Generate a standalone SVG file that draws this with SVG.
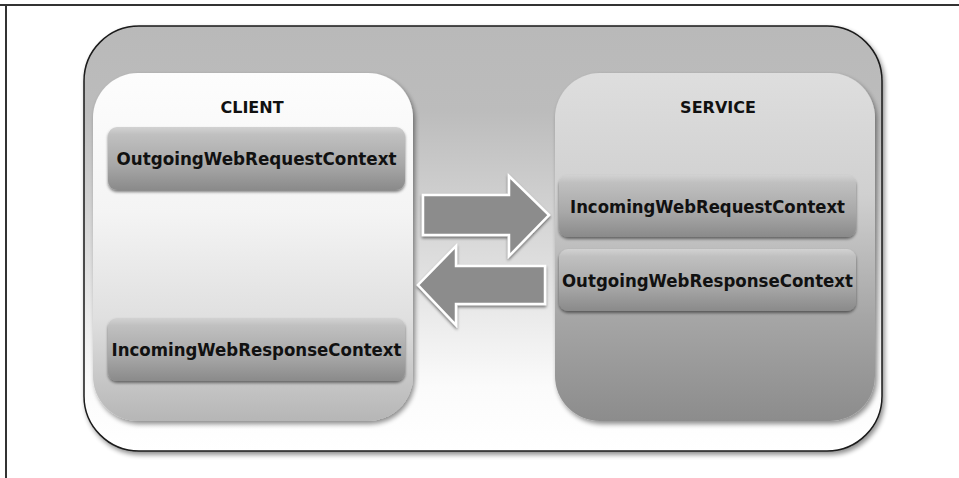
<svg xmlns="http://www.w3.org/2000/svg" width="959" height="478" viewBox="0 0 959 478">
<defs>
<linearGradient id="gOuter" x1="0" y1="0" x2="0" y2="1">
<stop offset="0" stop-color="#b9b9b9"/>
<stop offset="0.2" stop-color="#bcbcbc"/>
<stop offset="0.6" stop-color="#e2e2e2"/>
<stop offset="0.85" stop-color="#fbfbfb"/>
<stop offset="1" stop-color="#ffffff"/>
</linearGradient>
<linearGradient id="gClient" x1="0" y1="0" x2="0" y2="1">
<stop offset="0" stop-color="#fdfdfd"/>
<stop offset="0.4" stop-color="#f4f4f4"/>
<stop offset="0.7" stop-color="#e0e0e0"/>
<stop offset="1" stop-color="#b6b6b6"/>
</linearGradient>
<linearGradient id="gService" x1="0" y1="0" x2="0" y2="1">
<stop offset="0" stop-color="#dedede"/>
<stop offset="0.35" stop-color="#d0d0d0"/>
<stop offset="0.7" stop-color="#a6a6a6"/>
<stop offset="1" stop-color="#8c8c8c"/>
</linearGradient>
<linearGradient id="gItem" x1="0" y1="0" x2="0" y2="1">
<stop offset="0" stop-color="#d2d2d2"/>
<stop offset="0.12" stop-color="#c0c0c0"/>
<stop offset="0.6" stop-color="#a8a8a8"/>
<stop offset="1" stop-color="#8a8a8a"/>
</linearGradient>
<filter id="shadow" x="-10%" y="-10%" width="125%" height="130%">
<feGaussianBlur in="SourceAlpha" stdDeviation="2.5"/>
<feOffset dx="2" dy="3" result="b"/>
<feComponentTransfer><feFuncA type="linear" slope="0.45"/></feComponentTransfer>
<feMerge><feMergeNode/><feMergeNode in="SourceGraphic"/></feMerge>
</filter>
<filter id="shadowS" x="-10%" y="-20%" width="120%" height="150%">
<feGaussianBlur in="SourceAlpha" stdDeviation="1.5"/>
<feOffset dx="0" dy="2" result="b"/>
<feComponentTransfer><feFuncA type="linear" slope="0.5"/></feComponentTransfer>
<feMerge><feMergeNode/><feMergeNode in="SourceGraphic"/></feMerge>
</filter>
</defs>
<style>
.frame{fill:none;stroke:#333;stroke-width:2}
.outer{fill:url(#gOuter);stroke:#1a1a1a;stroke-width:1.5}
.client{fill:url(#gClient);stroke:none}
.service{fill:url(#gService);stroke:none}
.item{fill:url(#gItem);stroke:none}
.title{font-family:"DejaVu Sans","Liberation Sans",sans-serif;font-weight:bold;font-size:16px;fill:#111;text-anchor:middle}
.lbl{font-family:"DejaVu Sans","Liberation Sans",sans-serif;font-weight:bold;font-size:17px;fill:#111;text-anchor:middle}
.arrow{fill:#8c8c8c;stroke:#ffffff;stroke-width:2.5;stroke-linejoin:miter}
</style>
<rect width="959" height="478" fill="#ffffff"/>
<path class="frame" d="M0 5 H959 M6 5 V478"/>
<g id="container">
<rect class="outer" x="84" y="26" width="798" height="425" rx="55" ry="55" filter="url(#shadow)"/>
</g>
<g id="client">
<rect class="client" x="93" y="73" width="320" height="348" rx="45" ry="45" filter="url(#shadow)"/>
<text class="title" x="252" y="113">CLIENT</text>
</g>
<g id="service">
<rect class="service" x="555" y="73" width="320" height="348" rx="45" ry="45" filter="url(#shadow)"/>
<text class="title" x="718" y="113">SERVICE</text>
</g>
<g id="outgoingWebRequestContext">
<rect class="item" x="108" y="127" width="297" height="63" rx="9" ry="9" filter="url(#shadowS)"/>
<text class="lbl" x="256.5" y="165" textLength="280" lengthAdjust="spacingAndGlyphs">OutgoingWebRequestContext</text>
</g>
<g id="incomingWebResponseContext">
<rect class="item" x="108" y="318" width="297" height="63" rx="9" ry="9" filter="url(#shadowS)"/>
<text class="lbl" x="256.5" y="356" textLength="290" lengthAdjust="spacingAndGlyphs">IncomingWebResponseContext</text>
</g>
<g id="incomingWebRequestContext">
<rect class="item" x="559" y="175" width="297" height="62" rx="9" ry="9" filter="url(#shadowS)"/>
<text class="lbl" x="707.5" y="213" textLength="275" lengthAdjust="spacingAndGlyphs">IncomingWebRequestContext</text>
</g>
<g id="outgoingWebResponseContext">
<rect class="item" x="559" y="249" width="297" height="62" rx="9" ry="9" filter="url(#shadowS)"/>
<text class="lbl" x="707.5" y="287" textLength="291" lengthAdjust="spacingAndGlyphs">OutgoingWebResponseContext</text>
</g>
<g id="connectors">
<path class="arrow" d="M423 195 H509 V176 L549 215 L509 256 V235 H423 Z" filter="url(#shadowS)"/>
<path class="arrow" d="M545 266 H456 V246 L418 285 L456 325 V304 H545 Z" filter="url(#shadowS)"/>
</g>
</svg>
